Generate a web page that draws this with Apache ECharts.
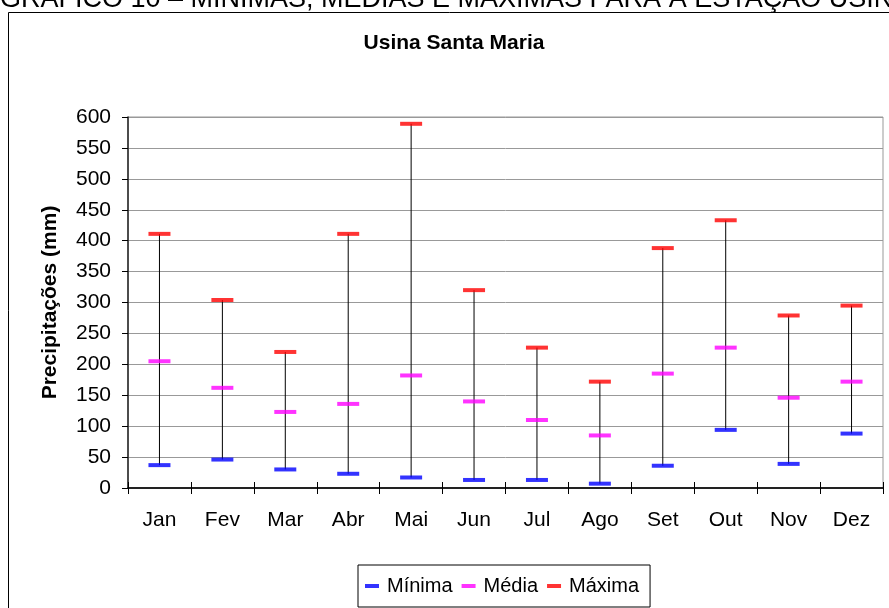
<!DOCTYPE html>
<html>
<head>
<meta charset="utf-8">
<script src="https://cdn.jsdelivr.net/npm/echarts@6/dist/echarts.min.js"></script>
<style>
	html, body { margin: 0; padding: 0; background: #fff; }
	#chart { width: 889px; height: 608px; }
</style>
</head>
<body>
<div id="chart"></div>
<script>
var meses = ['Jan', 'Fev', 'Mar', 'Abr', 'Mai', 'Jun', 'Jul', 'Ago', 'Set', 'Out', 'Nov', 'Dez'];
var minima = [37, 46, 30, 23, 17, 13, 13, 7, 36, 94, 39, 88];
var media = [205, 162, 123, 136, 182, 140, 110, 85, 185, 227, 146, 172];
var maxima = [411, 304, 220, 411, 589, 320, 227, 172, 388, 433, 279, 295];

var fonte = 'Liberation Sans, Arial, sans-serif';

var chart = echarts.init(document.getElementById('chart'));

// linha vertical entre minima e maxima
var faixa = [];
for (var i = 0; i < meses.length; i++) {
	faixa.push([i, minima[i], maxima[i]]);
}

var marcador = function(nome, cor, dados){
	return {
		name: nome,
		type: 'scatter',
		symbol: 'rect',
		symbolSize: [22, 4],
		itemStyle: { color: cor },
		data: dados,
		z: 5
	};
};

chart.setOption({
	animation: false,
	textStyle: { fontFamily: fonte },
	graphic: [
		{
			type: 'text',
			left: 0,
			top: -14,
			style: { text: 'GRÁFICO 10 – MÍNIMAS, MÉDIAS E MÁXIMAS PARA A ESTAÇÃO USINA SANTA MARIA', font: '27px ' + fonte, fill: '#000' }
		},
		{
			type: 'rect',
			shape: { x: 8.5, y: 12.5, width: 900, height: 620 },
			style: { fill: null, stroke: '#000', lineWidth: 1 },
			silent: true,
			z: -10
		},
		{
			type: 'text',
			x: 454,
			y: 43,
			style: { text: 'Usina Santa Maria', font: 'bold 21px ' + fonte, fill: '#000', align: 'center', verticalAlign: 'middle' }
		}
	],
	legend: {
		bottom: 1,
		left: 358,
		data: ['Mínima', 'Média', 'Máxima'],
		icon: 'rect',
		itemWidth: 14,
		itemHeight: 4,
		itemGap: 9,
		padding: [11, 11, 11, 7],
		borderColor: '#000',
		borderWidth: 1,
		textStyle: { fontFamily: fonte, fontSize: 20, color: '#000', padding: [0, 0, 0, 3] }
	},
	grid: {
		left: 128,
		right: 6,
		top: 117,
		bottom: 120,
		show: true,
		borderColor: '#999',
		borderWidth: 1
	},
	xAxis: [
		{
			type: 'category',
			data: meses,
			boundaryGap: true,
			axisLine: { lineStyle: { color: '#222', width: 2 } },
			axisTick: { show: true, interval: 0, length: 6, lineStyle: { color: '#000' } },
			axisLabel: { color: '#000', fontSize: 21, fontFamily: fonte, margin: 22 }
		},
		{
			// marcas para dentro, para cruzar o eixo
			type: 'category',
			data: meses,
			position: 'bottom',
			boundaryGap: true,
			axisLine: { show: false },
			axisTick: { show: true, inside: true, interval: 0, length: 6, lineStyle: { color: '#000' } },
			axisLabel: { show: false }
		}
	],
	yAxis: {
		type: 'value',
		min: 0,
		max: 600,
		interval: 50,
		name: 'Precipitações (mm)',
		nameLocation: 'middle',
		nameGap: 67,
		nameTextStyle: { fontFamily: fonte, fontSize: 21, fontWeight: 'bold', color: '#000' },
		axisLine: { show: true, lineStyle: { color: '#222', width: 1.5 } },
		axisTick: { show: true, length: 6, lineStyle: { color: '#000' } },
		axisLabel: { color: '#000', fontSize: 21, fontFamily: fonte, margin: 17 },
		splitLine: { lineStyle: { color: '#999', width: 1 } }
	},
	series: [
		{
			type: 'custom',
			data: faixa,
			silent: true,
			renderItem: function(params, api){
				var a = api.coord([api.value(0), api.value(1)]);
				var b = api.coord([api.value(0), api.value(2)]);
				return {
					type: 'line',
					shape: { x1: a[0], y1: a[1], x2: b[0], y2: b[1] },
					style: { stroke: '#000', lineWidth: 1 }
				};
			},
			z: 3
		},
		marcador('Mínima', '#0000ff', minima),
		marcador('Média', '#ff00ff', media),
		marcador('Máxima', '#ff0000', maxima)
	]
});
</script>
</body>
</html>
